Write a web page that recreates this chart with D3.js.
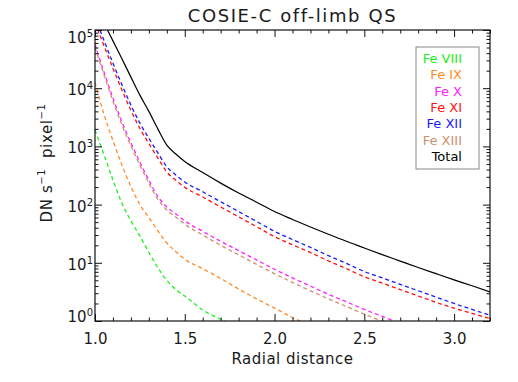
<!DOCTYPE html>
<html>
<head>
<meta charset="utf-8">
<script src="https://cdn.jsdelivr.net/npm/d3@7"></script>
<style>
  body { margin: 0; background: #fff; }
  text { font-family: "DejaVu Sans", sans-serif; fill: #1a1a1a; }
</style>
</head>
<body>
<div id="chart"></div>
<script>
// ----- data -----
const radius = [1.0, 1.05, 1.1, 1.15, 1.2, 1.25, 1.3, 1.35, 1.4, 1.45, 1.5,
                1.6, 1.7, 1.8, 1.9, 2.0, 2.1, 2.2, 2.3, 2.4, 2.5, 2.6, 2.7, 2.8, 2.9, 3.0, 3.1, 3.2];

const feVIII = [1905, 724, 263, 105, 52.5, 28.8, 15.1, 8.3, 5.0, 3.47, 2.69, 1.55, 1.07, 0.79];
const feIX = [12600, 3550, 1260, 479, 204, 100, 60, 35.5, 21.9, 15.5, 11.5, 7.94, 5.37, 3.55, 2.40, 1.66, 1.15, 0.81];
const feX = [56200, 19050, 6760, 2630, 1150, 537, 263, 138, 91.2, 69.2, 52.5, 34.7, 23.4, 16.2, 11.2, 7.76, 5.5, 3.98, 2.88, 2.14, 1.58, 1.20, 0.91];
const feXI = [135000, 53700, 21900, 9350, 4170, 2040, 1120, 631, 363, 263, 199, 135, 91, 61.7, 41.7, 28.2, 20.4, 15.0, 10.8, 7.94, 5.76, 4.47, 3.47, 2.69, 2.09, 1.66, 1.35, 1.10];
const feXII = [166000, 66000, 26900, 11500, 5130, 2510, 1380, 776, 447, 324, 245, 166, 112, 75.9, 51.3, 34.7, 25.1, 18.4, 13.3, 9.77, 7.08, 5.5, 4.27, 3.31, 2.57, 2.0, 1.58, 1.26];
const feXIII = [50000, 17000, 6000, 2340, 1020, 478, 234, 123, 81, 61, 46, 30, 20, 13.7, 9.4, 6.5, 4.6, 3.3, 2.4, 1.78, 1.31, 0.99, 0.75];
const total = [270000, 132000, 65000, 32000, 15500, 7600, 4000, 2000, 1050, 740, 550, 355, 234, 158, 110, 76, 55.6, 41.2, 30.9, 23.4, 18, 13.8, 10.7, 8.3, 6.5, 5.1, 4.03, 3.16];

const seriesNames = ["Fe VIII", "Fe IX", "Fe X", "Fe XI", "Fe XII", "Fe XIII", "Total"];
const xMajorTicks = [1.0, 1.5, 2.0, 2.5, 3.0];
const yDecades = [1, 10, 100, 1000, 10000, 100000];

// ----- layout -----
const width = 518, height = 382;
const plot = { left: 95, top: 30, right: 490, bottom: 321 };

const svg = d3.select("#chart").append("svg")
    .attr("width", width)
    .attr("height", height);

svg.append("rect").attr("width", width).attr("height", height).attr("fill", "#fff");

const x = d3.scaleLinear().domain([1.0, 3.2]).range([plot.left, plot.right]);
const y = d3.scaleLog().domain([1, 1e5]).range([plot.bottom, plot.top]);

const colors = ["#22ee22", "#ff8c2a", "#ff22ff", "#ff1010", "#1a1aff", "#cc9070", "#000000"];
const seriesValues = [feVIII, feIX, feX, feXI, feXII, feXIII, total];

const series = seriesNames.map((name, i) => ({
    name: name,
    color: colors[i],
    dashed: name !== "Total",
    points: seriesValues[i].map((v, j) => ({ r: radius[j], v: v }))
}));

// clip to plot box
svg.append("clipPath").attr("id", "plotclip")
    .append("rect")
    .attr("x", plot.left).attr("y", plot.top)
    .attr("width", plot.right - plot.left).attr("height", plot.bottom - plot.top);

const line = d3.line()
    .x(d => x(d.r))
    .y(d => y(d.v))
    .curve(d3.curveMonotoneX);

const lines = svg.append("g").attr("clip-path", "url(#plotclip)");

series.forEach(s => {
    lines.append("path")
        .datum(s.points)
        .attr("fill", "none")
        .attr("stroke", s.color)
        .attr("stroke-width", s.dashed ? 1.3 : 1.2)
        .attr("stroke-dasharray", s.dashed ? "4,3" : null)
        .attr("d", line);
});

// ----- axes (ticks inward on all four sides) -----
const xMinor = d3.range(10, 33).map(d => d / 10).filter(d => !xMajorTicks.includes(d));
const yMinor = [];
yDecades.slice(0, -1).forEach(d => { for (let k = 2; k <= 9; k++) yMinor.push(d * k); });

function styleAxis(g) {
    g.select(".domain").remove();
    g.selectAll(".tick line").attr("stroke", "#111").attr("stroke-width", 1);
}

// bottom
svg.append("g")
    .attr("transform", `translate(0,${plot.bottom})`)
    .call(d3.axisBottom(x).tickValues(xMajorTicks).tickSize(-7).tickPadding(12).tickFormat(d3.format(".1f")))
    .call(styleAxis)
    .call(g => g.selectAll("text").attr("font-size", 15).attr("fill", "#1a1a1a").attr("font-family", "DejaVu Sans"));
svg.append("g")
    .attr("transform", `translate(0,${plot.bottom})`)
    .call(d3.axisBottom(x).tickValues(xMinor).tickSize(-3.5).tickFormat(""))
    .call(styleAxis);

// top
svg.append("g")
    .attr("transform", `translate(0,${plot.top})`)
    .call(d3.axisTop(x).tickValues(xMajorTicks).tickSize(-7).tickFormat(""))
    .call(styleAxis);
svg.append("g")
    .attr("transform", `translate(0,${plot.top})`)
    .call(d3.axisTop(x).tickValues(xMinor).tickSize(-3.5).tickFormat(""))
    .call(styleAxis);

// left
svg.append("g")
    .attr("transform", `translate(${plot.left},0)`)
    .call(d3.axisLeft(y).tickValues(yDecades).tickSize(-7).tickFormat(""))
    .call(styleAxis);
svg.append("g")
    .attr("transform", `translate(${plot.left},0)`)
    .call(d3.axisLeft(y).tickValues(yMinor).tickSize(-3.5).tickFormat(""))
    .call(styleAxis);

// right
svg.append("g")
    .attr("transform", `translate(${plot.right},0)`)
    .call(d3.axisRight(y).tickValues(yDecades).tickSize(-7).tickFormat(""))
    .call(styleAxis);
svg.append("g")
    .attr("transform", `translate(${plot.right},0)`)
    .call(d3.axisRight(y).tickValues(yMinor).tickSize(-3.5).tickFormat(""))
    .call(styleAxis);

// y tick labels 10^n
const yLabels = svg.append("g").attr("font-size", 15);
yDecades.forEach(d => {
    const cy = Math.max(plot.top + 7, Math.min(plot.bottom - 5, y(d) + 1.5));
    const t = yLabels.append("text")
        .attr("x", 93)
        .attr("y", cy + 5.5)
        .attr("text-anchor", "end");
    t.append("tspan").text("10");
    t.append("tspan").attr("font-size", 10).attr("dy", -6).text(Math.round(Math.log10(d)));
});

// frame
svg.append("rect")
    .attr("x", plot.left).attr("y", plot.top)
    .attr("width", plot.right - plot.left).attr("height", plot.bottom - plot.top)
    .attr("fill", "none").attr("stroke", "#111").attr("stroke-width", 1.2);

// ----- titles -----
svg.append("text")
    .attr("x", (plot.left + plot.right) / 2)
    .attr("y", 22)
    .attr("text-anchor", "middle")
    .attr("font-size", 18)
    .attr("letter-spacing", 1.6)
    .text("COSIE-C off-limb QS");

svg.append("text")
    .attr("x", (plot.left + plot.right) / 2)
    .attr("y", 364)
    .attr("text-anchor", "middle")
    .attr("font-size", 15)
    .attr("letter-spacing", 0.5)
    .text("Radial distance");

const ytitle = svg.append("text")
    .attr("transform", `translate(52,${163}) rotate(-90)`)
    .attr("text-anchor", "middle")
    .attr("font-size", 15)
    .attr("letter-spacing", 0.6);
ytitle.append("tspan").text("DN s");
ytitle.append("tspan").attr("font-size", 10).attr("dy", -7).text("−1");
ytitle.append("tspan").attr("dy", 7).text("\u00a0 pixel");
ytitle.append("tspan").attr("font-size", 10).attr("dy", -7).text("−1");

// ----- legend -----
const legend = svg.append("g");
legend.append("rect")
    .attr("x", 416).attr("y", 47)
    .attr("width", 63).attr("height", 122)
    .attr("fill", "#fff").attr("stroke", "#888").attr("stroke-width", 1);

legend.selectAll("text")
    .data(series)
    .enter().append("text")
    .attr("x", 462)
    .attr("y", (d, i) => 63 + i * 16.3)
    .attr("text-anchor", "end")
    .attr("font-size", 13)
    .style("fill", d => d.color)
    .text(d => d.name);
</script>
</body>
</html>
